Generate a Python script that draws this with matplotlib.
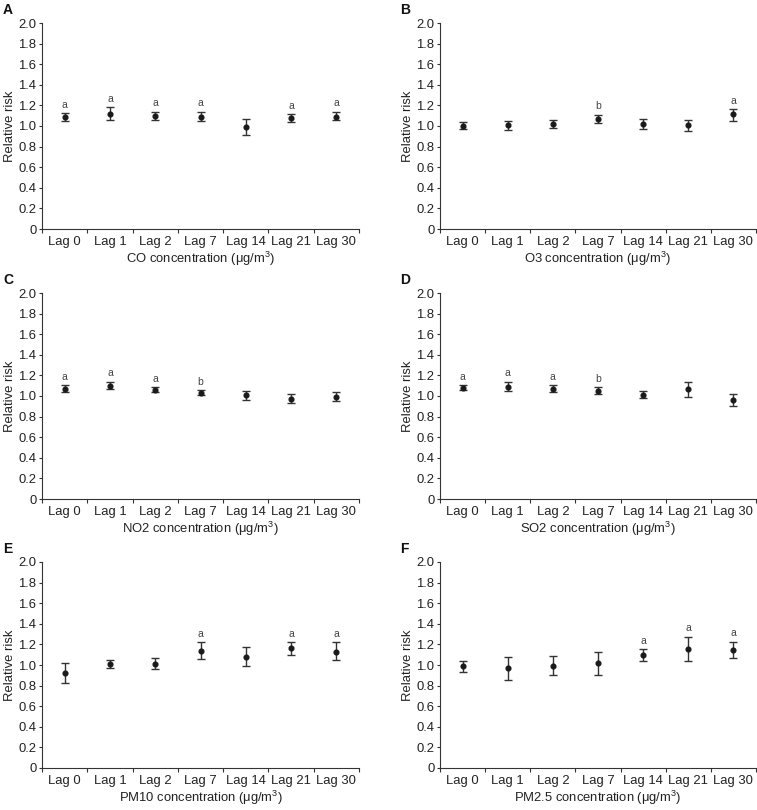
import matplotlib
matplotlib.use('Agg')
import matplotlib.pyplot as plt
from matplotlib.ticker import FixedLocator, FuncFormatter

plt.rcParams['font.family'] = ['Liberation Sans', 'DejaVu Sans']
plt.rcParams['mathtext.fontset'] = 'custom'
plt.rcParams['mathtext.rm'] = 'Liberation Sans'
plt.rcParams['mathtext.it'] = 'Liberation Sans'

# Datos
lags = ["Lag 0", "Lag 1", "Lag 2", "Lag 7", "Lag 14", "Lag 21", "Lag 30"]

panel_letters = ["A", "B", "C", "D", "E", "F"]
pollutants = ["CO", "O3", "NO2", "SO2", "PM10", "PM2.5"]

co_rr = [1.09, 1.12, 1.10, 1.09, 0.99, 1.08, 1.09]
co_lo = [1.05, 1.06, 1.06, 1.05, 0.91, 1.04, 1.06]
co_hi = [1.125, 1.18, 1.14, 1.135, 1.07, 1.115, 1.135]
co_sig = ["a", "a", "a", "a", "", "a", "a"]

o3_rr = [1.00, 1.01, 1.02, 1.07, 1.02, 1.005, 1.115]
o3_lo = [0.97, 0.96, 0.985, 1.03, 0.97, 0.955, 1.053]
o3_hi = [1.034, 1.05, 1.057, 1.11, 1.066, 1.06, 1.164]
o3_sig = ["", "", "", "b", "", "", "a"]

no2_rr = [1.07, 1.10, 1.06, 1.03, 1.005, 0.972, 0.99]
no2_lo = [1.037, 1.067, 1.04, 1.011, 0.963, 0.93, 0.95]
no2_hi = [1.105, 1.135, 1.083, 1.057, 1.05, 1.018, 1.034]
no2_sig = ["a", "a", "a", "b", "", "", ""]

so2_rr = [1.08, 1.09, 1.07, 1.047, 1.008, 1.066, 0.963]
so2_lo = [1.057, 1.05, 1.034, 1.018, 0.98, 0.99, 0.90]
so2_hi = [1.105, 1.135, 1.105, 1.083, 1.044, 1.135, 1.02]
so2_sig = ["a", "a", "a", "b", "", "", ""]

pm10_rr = [0.92, 1.01, 1.008, 1.14, 1.08, 1.164, 1.13]
pm10_lo = [0.823, 0.972, 0.96, 1.057, 0.99, 1.10, 1.044]
pm10_hi = [1.018, 1.044, 1.066, 1.222, 1.17, 1.222, 1.222]
pm10_sig = ["", "", "", "a", "", "a", "a"]

pm25_rr = [0.99, 0.97, 0.99, 1.015, 1.096, 1.157, 1.147]
pm25_lo = [0.934, 0.856, 0.90, 0.90, 1.034, 1.037, 1.066]
pm25_hi = [1.034, 1.076, 1.083, 1.125, 1.154, 1.274, 1.228]
pm25_sig = ["", "", "", "", "a", "a", "a"]

datos = [
    (co_rr, co_lo, co_hi, co_sig),
    (o3_rr, o3_lo, o3_hi, o3_sig),
    (no2_rr, no2_lo, no2_hi, no2_sig),
    (so2_rr, so2_lo, so2_hi, so2_sig),
    (pm10_rr, pm10_lo, pm10_hi, pm10_sig),
    (pm25_rr, pm25_lo, pm25_hi, pm25_sig),
]

W, H = 757, 810
fig = plt.figure(figsize=(W / 100, H / 100), dpi=100)

col_left = [42, 440]
col_width = [317, 316]
row_top = [23, 293, 562]
row_height = 206

axcolor = '#333333'
fs = 9.4

for i in range(6):
    r, c = i // 2, i % 2
    left = col_left[c] / W
    bottom = 1 - (row_top[r] + row_height) / H
    ax = fig.add_axes([left, bottom, col_width[c] / W, row_height / H])

    rr, lo, hi, sig = datos[i]
    x = list(range(len(lags)))
    yerr = [[rr[k] - lo[k] for k in x], [hi[k] - rr[k] for k in x]]
    ax.errorbar(x, rr, yerr=yerr, fmt='o', color='#1a1a1a', ecolor='#333333',
                markersize=3.4, elinewidth=1.0, capsize=3.0, capthick=1.0)

    # Letras de significancia
    for k in x:
        if sig[k]:
            ax.text(k, hi[k] + 0.035, sig[k], ha='center', va='bottom',
                    fontsize=7.5, color='#444444')

    ax.set_xlim(-0.5, len(lags) - 0.5)
    ax.set_ylim(0, 2.0)
    ax.set_yticks([0.2 * j for j in range(11)])
    ax.yaxis.set_major_formatter(FuncFormatter(lambda v, p: "0" if abs(v) < 1e-9 else "%.1f" % v))

    ax.set_xticks(x)
    ax.set_xticklabels(lags)
    ax.xaxis.set_minor_locator(FixedLocator([k - 0.5 for k in range(len(lags) + 1)]))
    ax.tick_params(axis='x', which='major', length=0, pad=5, labelsize=fs, colors='#222222')
    ax.tick_params(axis='x', which='minor', length=3, width=0.8, color=axcolor, direction='out')
    ax.tick_params(axis='y', length=2.5, width=0.8, color=axcolor, labelsize=fs,
                   labelcolor='#222222', pad=1.5)

    for s in ['top', 'right']:
        ax.spines[s].set_visible(False)
    for s in ['left', 'bottom']:
        ax.spines[s].set_color(axcolor)
        ax.spines[s].set_linewidth(0.8)

    ax.set_ylabel("Relative risk", fontsize=fs, color='#222222', labelpad=2)
    ax.set_xlabel(pollutants[i] + r" concentration ($\mu$g/m$^3$)", fontsize=fs,
                  color='#222222', labelpad=1.5)

    # Letra del panel
    lx = 3 if c == 0 else 400
    fig.text(lx / W, 1 - (row_top[r] - 20) / H, panel_letters[i], fontsize=10,
             fontweight='bold', ha='left', va='top', color='#111111')

fig.savefig("out.png", dpi=100)
